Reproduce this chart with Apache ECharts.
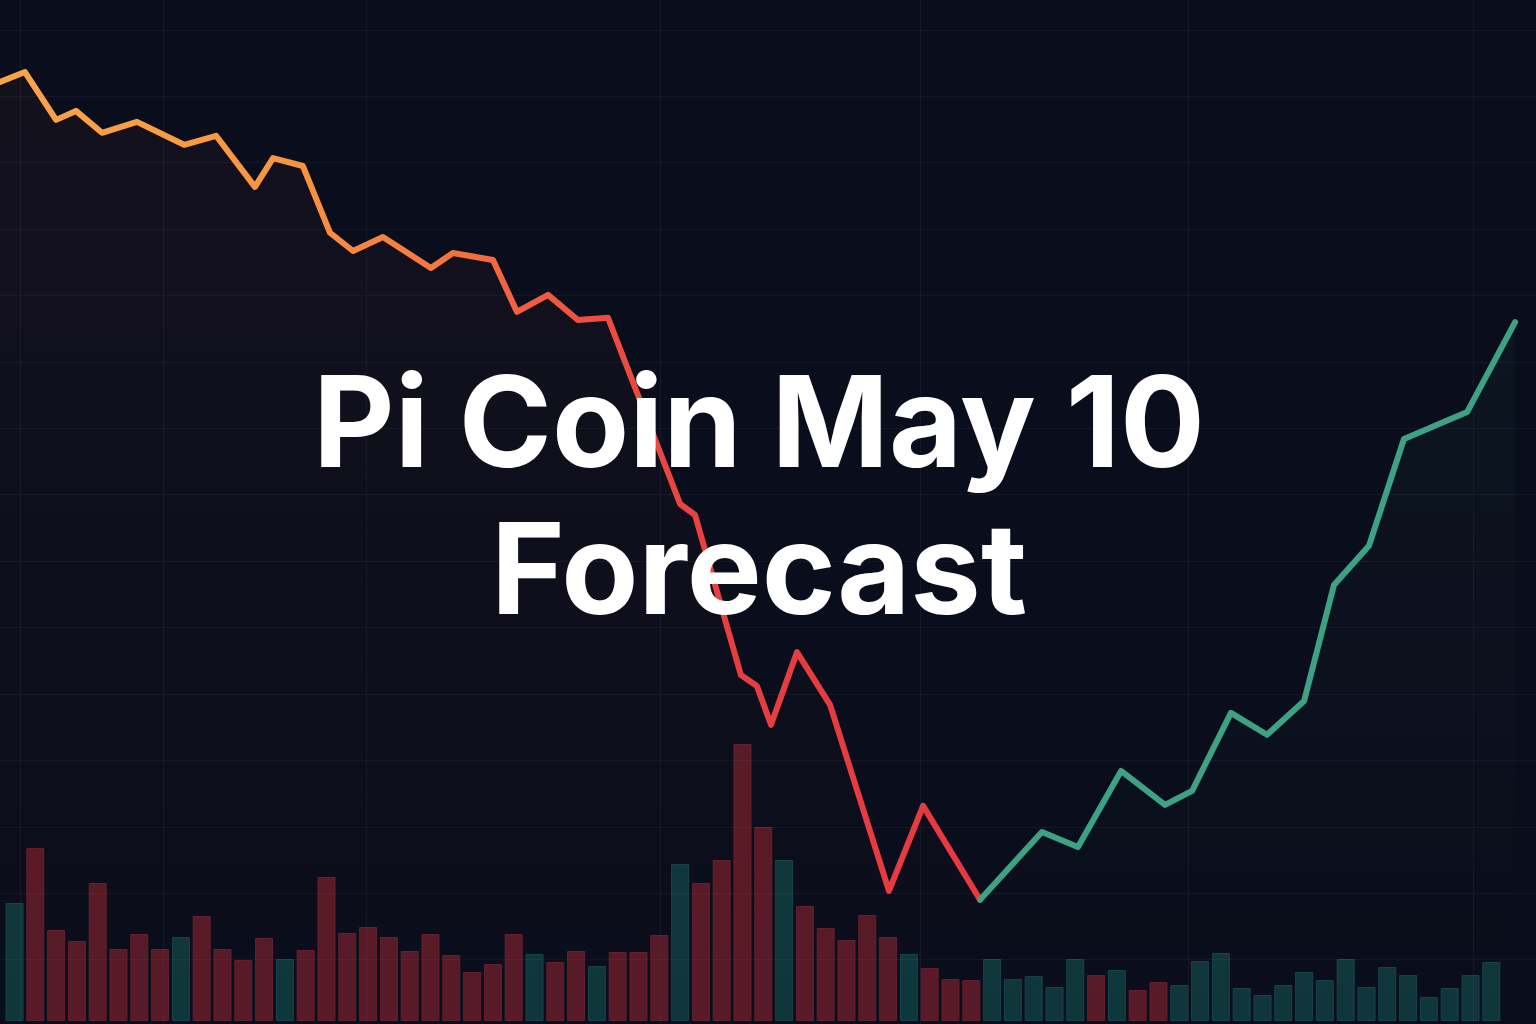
<!DOCTYPE html>
<html>
<head>
<meta charset="utf-8">
<script src="https://cdn.jsdelivr.net/npm/echarts@6/dist/echarts.min.js"></script>
<style>
html,body{margin:0;padding:0;background:#0a0d1b;}
#chart{width:1536px;height:1024px;}
</style>
</head>
<body>
<div id="chart"></div>
<script>
// ---- data ----
const titleLines = ['Pi Coin May 10', 'Forecast'];

// price path (hours since start, price in USD)
const hours = [0, 1.17, 2.63, 3.56, 4.78, 6.42, 8.63, 10.13, 11.95, 12.80, 14.20, 15.47, 16.55, 17.95, 20.20, 21.23, 23.11, 24.23, 25.69, 27.09, 28.50, 31.88, 32.58, 34.73, 35.48, 36.14, 37.36, 38.91, 41.67, 43.27, 45.94, 48.84, 50.53, 52.55, 54.61, 55.88, 57.70, 59.39, 61.13, 62.53, 64.17, 65.81, 68.77, 71.02];
const prices = [0.6843, 0.6873, 0.6729, 0.6756, 0.6690, 0.6723, 0.6654, 0.6681, 0.6527, 0.6614, 0.6590, 0.6389, 0.6334, 0.6376, 0.6283, 0.6328, 0.6307, 0.6151, 0.6202, 0.6126, 0.6133, 0.5572, 0.5539, 0.5057, 0.5024, 0.4907, 0.5126, 0.4967, 0.4407, 0.4663, 0.4380, 0.4584, 0.4539, 0.4768, 0.4666, 0.4708, 0.4943, 0.4877, 0.4979, 0.5328, 0.5446, 0.5768, 0.5849, 0.6120];
const lowIndex = 30; // bottom of the decline, start of the recovery

// volume bars (millions) and candle direction
const volumes = [23.6, 34.6, 18.2, 16.0, 27.6, 14.4, 17.4, 14.4, 16.8, 21.0, 14.4, 12.2, 16.6, 12.4, 14.2, 28.8, 17.6, 18.8, 16.8, 14.0, 17.4, 13.2, 9.8, 11.4, 17.4, 13.4, 11.8, 14.0, 11.0, 13.8, 13.8, 17.2, 31.4, 27.6, 32.2, 55.4, 38.8, 32.2, 23.0, 18.6, 16.2, 21.2, 16.8, 13.4, 10.6, 8.4, 8.2, 12.4, 8.4, 9.0, 6.8, 12.4, 9.2, 10.2, 6.2, 7.8, 7.2, 12.0, 13.6, 6.6, 5.2, 7.2, 9.8, 8.2, 12.4, 6.8, 10.8, 9.2, 4.8, 6.6, 9.2, 11.8];
const directions = ['u','d','d','d','d','d','d','d','u','d','d','d','d','u','d','d','d','d','d','d','d','d','d','d','d','u','d','d','u','d','d','d','u','d','d','d','d','u','d','d','d','d','d','u','d','d','d','u','u','u','u','u','d','u','d','d','u','u','u','u','u','u','u','u','u','u','u','u','u','u','u','u'];

// chart-grid positions: vertical (hours) and horizontal (price)
const gridHours = [0.94, 7.64, 17.16, 30.94, 43.13, 55.69, 69.05];
const gridPrices = [0.70, 0.68, 0.66, 0.64, 0.62, 0.60, 0.58, 0.56, 0.54, 0.52, 0.50, 0.48, 0.46, 0.44, 0.42];
const priceMin = 0.4006, priceMax = 0.7090;

// ---- build ----
const downPts = hours.slice(0, lowIndex + 1).map((h, i) => [h, prices[i]]);
const upPts = hours.slice(lowIndex).map((h, i) => [h, prices[lowIndex + i]]);
const barCats = volumes.map((v, i) => String(i + 1));
const barData = volumes.map((v, i) => ({
  value: v,
  itemStyle: directions[i] === 'u'
    ? { color: '#0f373b', borderColor: '#14444a', borderWidth: 1 }
    : { color: '#581a26', borderColor: '#63202d', borderWidth: 1 }
}));
const gridLineStyle = { color: 'rgba(120,135,170,0.09)', type: 'solid', width: 1 };

const chart = echarts.init(document.getElementById('chart'), null, { renderer: 'canvas' });
chart.setOption({
  backgroundColor: '#0a0d1b',
  animation: false,
  title: {
    text: titleLines.join('\n'),
    left: 759,
    top: 356,
    padding: 0,
    textAlign: 'center',
    textStyle: {
      color: '#ffffff',
      fontFamily: 'Inter',
      fontWeight: 'bold',
      fontSize: 126,
      lineHeight: 147
    }
  },
  grid: [
    { left: 0, right: 0, top: 0, bottom: 0 },
    { left: 4.1, right: 34.3, top: 721, bottom: 3 }
  ],
  xAxis: [
    { type: 'value', gridIndex: 0, min: 0, max: 72, show: false, splitLine: { show: false } },
    { type: 'category', gridIndex: 1, data: barCats, show: false }
  ],
  yAxis: [
    { type: 'value', gridIndex: 0, min: priceMin, max: priceMax, show: false, splitLine: { show: false } },
    { type: 'value', gridIndex: 1, min: 0, max: 60, show: false, splitLine: { show: false } }
  ],
  series: [
    {
      type: 'line',
      xAxisIndex: 0, yAxisIndex: 0,
      data: [],
      silent: true,
      z: 0,
      markLine: {
        silent: true,
        symbol: 'none',
        label: { show: false },
        lineStyle: gridLineStyle,
        data: gridHours.map(h => ({ xAxis: h })).concat(gridPrices.map(p => ({ yAxis: p })))
      }
    },
    {
      type: 'bar',
      xAxisIndex: 1, yAxisIndex: 1,
      data: barData,
      barWidth: 18,
      silent: true,
      z: 1
    },
    {
      type: 'line',
      xAxisIndex: 0, yAxisIndex: 0,
      data: downPts,
      showSymbol: false,
      silent: true,
      z: 3,
      lineStyle: {
        width: 6,
        cap: 'round',
        join: 'round',
        color: new echarts.graphic.LinearGradient(0, 0, 1, 0, [
          { offset: 0, color: '#fba44b' },
          { offset: 0.3, color: '#f8953f' },
          { offset: 0.47, color: '#f4703f' },
          { offset: 0.6, color: '#ee4e40' },
          { offset: 0.75, color: '#e63e40' },
          { offset: 1, color: '#e5393f' }
        ])
      },
      areaStyle: {
        origin: 'start',
        color: new echarts.graphic.LinearGradient(0, 0, 0, 1, [
          { offset: 0, color: 'rgba(240,110,70,0.06)' },
          { offset: 1, color: 'rgba(240,110,70,0.0)' }
        ])
      }
    },
    {
      type: 'line',
      xAxisIndex: 0, yAxisIndex: 0,
      data: upPts,
      showSymbol: false,
      silent: true,
      z: 3,
      lineStyle: { width: 6, cap: 'round', join: 'round', color: '#3da283' },
      areaStyle: {
        origin: 'start',
        color: new echarts.graphic.LinearGradient(0, 0, 0, 1, [
          { offset: 0, color: 'rgba(50,170,130,0.07)' },
          { offset: 1, color: 'rgba(50,170,130,0.0)' }
        ])
      }
    }
  ]
});
</script>
</body>
</html>
